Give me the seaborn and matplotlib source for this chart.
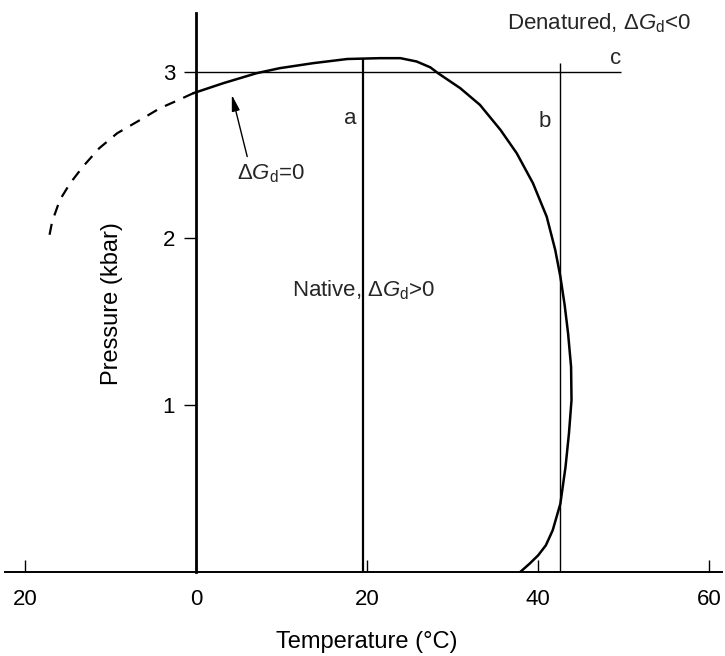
import numpy as np
import pandas as pd
import matplotlib
matplotlib.use("Agg")
import matplotlib.pyplot as plt
import seaborn as sns

# --- DATA ---
# solid phase boundary, dG_d = 0 (closed ellipse-like curve)
solid_T = [-0.3, 3.2, 7.1, 9.8, 13.7, 17.7, 21.5, 23.9, 25.8, 27.4, 28.3, 30.9,
           33.2, 35.6, 37.5, 39.4, 41.0, 42.0, 42.6, 43.1, 43.5, 43.85, 43.9,
           43.6, 43.2, 42.6, 41.7, 40.9, 40.0, 39.0, 37.9]
solid_P = [2.87, 2.93, 2.99, 3.02, 3.05, 3.075, 3.08, 3.08, 3.06, 3.025, 2.99, 2.90,
           2.80, 2.65, 2.51, 2.33, 2.13, 1.93, 1.77, 1.60, 1.43, 1.23, 1.03,
           0.83, 0.63, 0.41, 0.25, 0.16, 0.10, 0.05, 0.0]
# extrapolated (dashed) part below 0 C
dash_T = [-0.3, -2, -4.2, -6.5, -9.2, -11.3, -13.2, -14.7, -15.9, -16.8, -17.3]
dash_P = [2.87, 2.83, 2.78, 2.71, 2.63, 2.54, 2.43, 2.33, 2.23, 2.10, 1.97]

# experimental paths a, b (isotherms) and c (isobar)
path_a = {"T": 19.5, "P_top": 3.08}
path_b = {"T": 42.6, "P_top": 3.05}
path_c = {"P": 3.0, "T_start": 0, "T_end": 49.7}

x_ticks = [-20, 0, 20, 40, 60]
x_ticklabels = ["20", "0", "20", "40", "60"]
y_ticks = [1, 2, 3]

# --- STYLE ---
sns.set_theme(style="white")
plt.rcParams["font.family"] = ["Liberation Sans", "DejaVu Sans"]
plt.rcParams["mathtext.fontset"] = "custom"
plt.rcParams["mathtext.rm"] = "Liberation Sans"
plt.rcParams["mathtext.it"] = "Liberation Sans:italic"
plt.rcParams["mathtext.bf"] = "Liberation Sans:bold"

fig = plt.figure(figsize=(7.25, 6.56), dpi=100)
ax = fig.add_axes([0.007, 0.128, 0.989, 0.852])

df_solid = pd.DataFrame({"T": solid_T, "P": solid_P})
df_dash = pd.DataFrame({"T": dash_T, "P": dash_P})

sns.lineplot(data=df_solid, x="T", y="P", sort=False, estimator=None,
             color="black", lw=1.8, ax=ax)
sns.lineplot(data=df_dash, x="T", y="P", sort=False, estimator=None,
             color="black", lw=1.6, linestyle=(0, (5, 4)), ax=ax)

# paths
ax.vlines(path_a["T"], 0, path_a["P_top"], color="black", lw=1.6)
ax.vlines(path_b["T"], 0, path_b["P_top"], color="black", lw=1.0)
ax.hlines(path_c["P"], path_c["T_start"], path_c["T_end"], color="black", lw=1.0)

# labels
fs = 16
ax.text(18.0, 2.72, "a", ha="center", va="center", fontsize=fs)
ax.text(40.8, 2.70, "b", ha="center", va="center", fontsize=fs)
ax.text(49.1, 3.08, "c", ha="center", va="center", fontsize=fs)
ax.text(47.1, 3.29, r"Denatured, $\Delta G_{\mathrm{d}}$<0", ha="center", va="center", fontsize=fs)
ax.text(19.6, 1.69, r"Native, $\Delta G_{\mathrm{d}}$>0", ha="center", va="center", fontsize=fs)
ax.text(4.8, 2.39, r"$\Delta G_{\mathrm{d}}$=0", ha="left", va="center", fontsize=fs)
ax.annotate("", xy=(4.2, 2.86), xytext=(6.0, 2.49),
            arrowprops=dict(arrowstyle="-|>,head_length=0.8,head_width=0.2",
                            color="black", lw=1.0, shrinkA=0, shrinkB=0))

# axes
ax.set_xlim(-22.3, 61.5)
ax.set_ylim(0, 3.35)
ax.spines["left"].set_position(("data", 0))
ax.spines["left"].set_linewidth(2.0)
ax.spines["bottom"].set_linewidth(1.4)
ax.spines["top"].set_visible(False)
ax.spines["right"].set_visible(False)
for s in ("left", "bottom"):
    ax.spines[s].set_color("black")

ax.set_xticks(x_ticks)
ax.set_xticklabels(x_ticklabels)
ax.set_yticks(y_ticks)
ax.tick_params(axis="x", bottom=True, direction="in", length=9, width=1, pad=12,
               labelsize=fs, colors="black")
ax.tick_params(axis="y", left=True, direction="out", length=9, width=1, pad=6,
               labelsize=fs, colors="black")

ax.set_xlabel("Temperature (\u00b0C)", fontsize=17, color="black")
ax.set_ylabel("Pressure (kbar)", fontsize=17, color="black")
ax.xaxis.set_label_coords(0.505, -0.105)
ax.yaxis.set_label_coords(0.165, 0.481)
ax.grid(False)

fig.savefig("out.png", dpi=100)
